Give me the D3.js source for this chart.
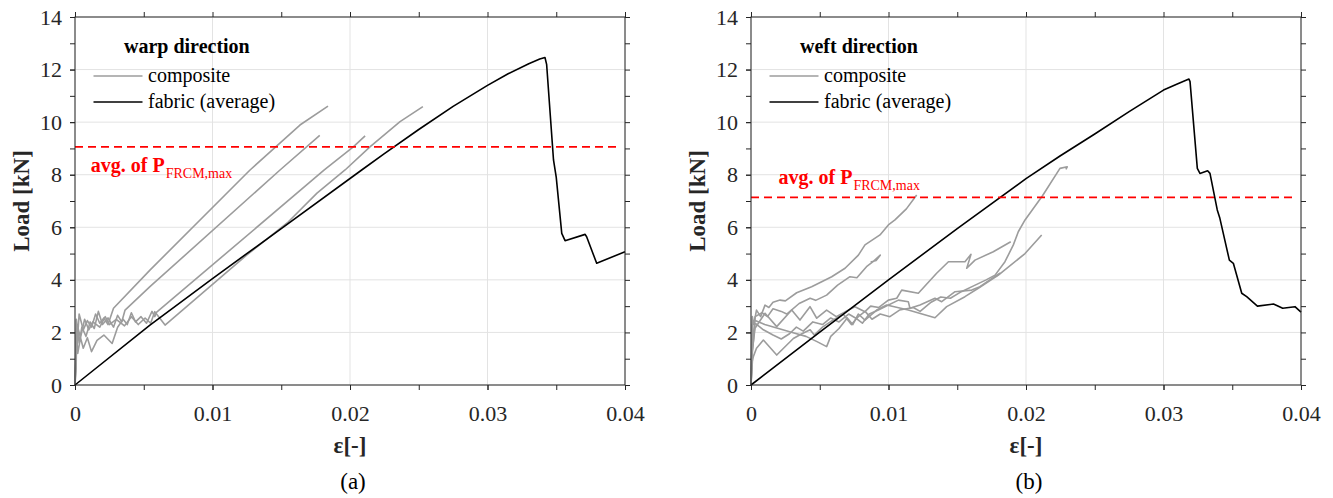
<!DOCTYPE html>
<html>
<head>
<meta charset="utf-8">
<script src="https://cdn.jsdelivr.net/npm/d3@7"></script>
<style>
  body { margin: 0; background: #fff; }
  text { font-family: "Liberation Serif", "Times New Roman", serif; }
</style>
</head>
<body>
<svg id="chart" width="1333" height="498"></svg>
<script>
// ---- Tick values ----
const xMajorTicks = [0, 0.01, 0.02, 0.03, 0.04];
const xMinorTicks = [0, 0.005, 0.01, 0.015, 0.02, 0.025, 0.03, 0.035, 0.04];
const yMajorTicks = [0, 2, 4, 6, 8, 10, 12, 14];
const yMinorTicks = [0, 1, 2, 3, 4, 5, 6, 7, 8, 9, 10, 11, 12, 13, 14];

// ---- Warp direction: [strain, load kN] ----
const warpFabric = [[0,0],[0.00545,2.28],[0.01,4.05],[0.015,5.95],[0.02085,8.18],[0.0225,8.8],[0.025,9.72],
  [0.0275,10.6],[0.03,11.4],[0.0315,11.84],[0.033,12.22],[0.0338,12.4],[0.03418,12.46],[0.0343,12.2],
  [0.0348,8.56],[0.035,7.9],[0.0354,5.77],[0.03564,5.49],[0.0371,5.73],[0.03721,5.64],[0.03794,4.63],[0.04,5.07]];
const warpComposite1 = [[0,0],[0.00005,1.0],[0.0001,2.5],[0.0002,1.9],[0.0003,2.7],[0.0006,2.1],[0.0009,2.45],
  [0.0012,2.2],[0.0015,2.7],[0.0018,2.35],[0.0021,2.55],[0.0024,2.3],[0.0028,2.92],[0.00545,4.37],
  [0.01273,8.18],[0.01636,9.89],[0.0184,10.61]];
const warpComposite2 = [[0,0],[0.0001,1.4],[0.00015,2.3],[0.0003,1.6],[0.0005,2.2],[0.0008,1.85],[0.0011,2.4],
  [0.0014,2.15],[0.0017,2.8],[0.002,2.3],[0.0024,2.55],[0.0028,2.2],[0.0031,2.65],[0.0034,2.4],[0.00364,2.85],
  [0.00545,3.74],[0.01491,8.18],[0.0178,9.5]];
const warpComposite3 = [[0,0],[0.00008,0.6],[0.00012,1.9],[0.0002,1.2],[0.0004,1.8],[0.0006,1.4],[0.0009,1.8],
  [0.0012,1.27],[0.0016,1.7],[0.0021,1.9],[0.0027,1.58],[0.0031,2.2],[0.0035,2.5],[0.0038,2.3],[0.0041,2.75],
  [0.0044,2.4],[0.0048,2.6],[0.0052,2.35],[0.0056,2.8],[0.0058,2.6],[0.0059,2.75],[0.01813,8.18],
  [0.02024,9.06],[0.0211,9.48]];
const warpComposite4 = [[0,0],[0.0001,2.0],[0.00015,1.5],[0.0002,2.2],[0.0004,1.8],[0.0007,2.5],[0.001,2.1],
  [0.0013,2.4],[0.0018,2.2],[0.0022,2.6],[0.0025,2.3],[0.003,2.5],[0.0036,2.25],[0.0041,2.6],[0.0046,2.3],
  [0.0051,2.55],[0.0055,2.35],[0.0058,2.79],[0.00655,2.28],[0.01248,4.94],[0.0155,6.2],[0.0176,7.3],
  [0.01964,8.18],[0.02145,9.06],[0.02364,10.02],[0.0253,10.59]];
const warpAvgPmax = 9.06;

// ---- Weft direction: [strain, load kN] ----
const weftFabric = [[0,0],[0.005,2.01],[0.01,4.0],[0.015,5.95],[0.02,7.85],[0.0225,8.72],[0.025,9.55],
  [0.0275,10.4],[0.03,11.22],[0.031,11.45],[0.03185,11.64],[0.03193,11.54],
  [0.03246,8.24],[0.03265,8.05],[0.03321,8.15],[0.03338,8.05],[0.03391,6.66],[0.0341,6.34],[0.03479,4.75],
  [0.03508,4.63],[0.03569,3.49],[0.03605,3.36],[0.03683,3.0],[0.038,3.08],[0.03867,2.92],[0.03956,2.98],[0.04,2.77]];
const weftComposite1 = [[0,0],[0.00005,1.6],[0.0001,2.6],[0.0002,2.3],[0.0004,2.85],[0.0007,2.6],[0.00102,3.04],
  [0.0013,2.95],[0.0016,3.15],[0.00211,3.23],[0.0025,3.2],[0.00332,3.51],[0.00441,3.74],[0.00514,3.93],
  [0.00587,4.12],[0.00684,4.44],[0.00781,4.94],[0.00829,5.33],[0.00938,5.71],[0.00999,6.09],[0.01047,6.28],
  [0.0113,6.7],[0.01205,7.23]];
const weftComposite2 = [[0,0],[0.0001,1.5],[0.0003,2.6],[0.0008,2.75],[0.0012,2.6],[0.0016,2.9],[0.0022,2.8],
  [0.0026,2.7],[0.0035,3.1],[0.0043,3.3],[0.0047,3.22],[0.0055,3.42],[0.0063,3.8],[0.0072,4.12],[0.0077,4.08],
  [0.0084,4.5],[0.0089,4.7],[0.0094,4.94],[0.0091,4.74],[0.0087,4.68]];
const weftComposite3 = [[0,0],[0.0001,0.9],[0.00017,1.08],[0.0004,1.4],[0.0009,1.71],[0.00187,1.14],[0.00308,1.77],
  [0.0037,1.95],[0.0043,2.1],[0.0046,1.9],[0.0052,2.2],[0.0059,2.45],[0.0067,2.7],[0.0073,2.3],[0.0078,2.6],
  [0.0083,2.8],[0.0088,2.5],[0.0094,2.7],[0.0101,2.6],[0.0108,2.85],[0.0118,2.95],[0.0123,2.8],[0.0131,3.15],
  [0.0138,3.35],[0.0145,3.3],[0.0153,3.55],[0.0163,3.8],[0.0171,4.0],[0.01775,4.18],[0.01847,4.69],
  [0.01908,5.33],[0.01944,5.83],[0.01993,6.28],[0.0212,7.2],[0.02247,8.24],[0.023,8.3],[0.0229,8.2]];
const weftComposite4 = [[0,0],[0.0001,2.3],[0.0003,2.45],[0.001,2.3],[0.002,2.15],[0.003,2.0],[0.004,1.85],
  [0.0048,1.65],[0.0055,1.46],[0.0058,1.85],[0.0064,2.15],[0.007,2.55],[0.0074,2.3],[0.0078,2.7],[0.00829,2.47],
  [0.00914,2.85],[0.00987,3.04],[0.01144,2.85],[0.01338,2.56],[0.01423,2.98],[0.01556,3.36],[0.01653,3.68],
  [0.01799,4.18],[0.01993,5.0],[0.02114,5.71]];
const weftComposite5 = [[0,0],[0.0001,1.3],[0.00029,2.16],[0.00102,2.73],[0.00187,2.22],[0.00296,2.85],
  [0.00356,2.47],[0.00429,2.98],[0.00478,2.54],[0.0055,2.85],[0.0062,2.6],[0.0069,2.8],[0.00756,2.98],
  [0.00829,2.79],[0.0087,3.0],[0.0093,2.95],[0.00999,3.23],[0.0106,3.3],[0.01096,3.61],[0.01217,3.49],
  [0.0135,4.25],[0.01436,4.69],[0.01556,4.69],[0.016,4.97],[0.01569,4.44],[0.01629,4.75],[0.01762,5.07],[0.01889,5.45]];
const weftComposite6 = [[0,0],[0.0001,1.3],[0.0003,2.35],[0.0009,2.1],[0.0016,1.9],[0.0022,1.75],[0.0028,1.95],
  [0.0033,2.2],[0.0038,2.05],[0.0045,2.4],[0.0052,2.3],[0.0058,2.55],[0.0064,2.4],[0.0071,2.7],[0.0076,2.55],
  [0.0081,2.35],[0.0086,2.7],[0.00926,2.85],[0.01072,3.23],[0.01144,3.17],[0.01156,2.92],[0.01229,3.04],
  [0.01338,3.3],[0.01387,3.17],[0.01484,3.55],[0.01605,3.61],[0.01665,3.74],[0.01787,4.18],[0.0181,4.25],[0.0178,4.12]];
const weftAvgPmax = 7.14;

// ---- Layout ----
const svg = d3.select('#chart');
const plotW = 550, plotH = 368, plotTop = 17;
const GRAY = '#9c9c9c', AXIS = '#262626';

const panels = [
  { left: 75, title: 'warp direction', caption: '(a)', fabric: warpFabric,
    composites: [warpComposite1, warpComposite2, warpComposite3, warpComposite4],
    avg: warpAvgPmax, labelAt: [0.00115, 8.1] },
  { left: 751, title: 'weft direction', caption: '(b)', fabric: weftFabric,
    composites: [weftComposite1, weftComposite2, weftComposite3, weftComposite4, weftComposite5, weftComposite6],
    avg: weftAvgPmax, labelAt: [0.002, 7.65] }
];

panels.forEach(p => {
  const g = svg.append('g').attr('transform', `translate(${p.left},${plotTop})`);
  const x = d3.scaleLinear().domain([0, 0.04]).range([0, plotW]);
  const y = d3.scaleLinear().domain([0, 14]).range([plotH, 0]);

  // grid
  g.append('g').selectAll('line').data(xMajorTicks).join('line')
    .attr('x1', d => x(d)).attr('x2', d => x(d)).attr('y1', 0).attr('y2', plotH)
    .attr('stroke', '#e3e3e3').attr('stroke-width', 1);
  g.append('g').selectAll('line').data(yMajorTicks).join('line')
    .attr('y1', d => y(d)).attr('y2', d => y(d)).attr('x1', 0).attr('x2', plotW)
    .attr('stroke', '#e3e3e3').attr('stroke-width', 1);

  // curves
  const line = d3.line().x(d => x(d[0])).y(d => y(d[1]));
  g.append('g').selectAll('path').data(p.composites).join('path')
    .attr('d', line).attr('fill', 'none').attr('stroke', GRAY)
    .attr('stroke-width', 1.6).attr('stroke-linejoin', 'round');
  g.append('path').datum(p.fabric).attr('d', line).attr('fill', 'none')
    .attr('stroke', '#000').attr('stroke-width', 1.6).attr('stroke-linejoin', 'round');

  // average of the composite peak loads
  g.append('line').attr('x1', x(0)).attr('x2', x(0.0396))
    .attr('y1', y(p.avg)).attr('y2', y(p.avg))
    .attr('stroke', '#ff0000').attr('stroke-width', 1.8).attr('stroke-dasharray', '8,5');
  const lbl = g.append('text').attr('x', x(p.labelAt[0])).attr('y', y(p.labelAt[1]))
    .attr('fill', '#ff0000').attr('font-size', 20).attr('font-weight', 'bold');
  lbl.append('tspan').text('avg. of P');
  lbl.append('tspan').attr('dy', 6).attr('dx', 1).attr('font-size', 14).attr('font-weight', 'normal').text('FRCM,max');

  // axes with outward ticks
  const fmtX = d => d === 0 ? '0' : d3.format('.2f')(d);
  const styleAxis = sel => {
    sel.select('.domain').remove();
    sel.selectAll('line').attr('stroke', AXIS);
    sel.selectAll('text').attr('fill', AXIS).attr('font-size', 22)
      .attr('font-family', '"Liberation Serif", "Times New Roman", serif');
  };
  g.append('g').attr('transform', `translate(0,${plotH})`)
    .call(d3.axisBottom(x).tickValues(xMinorTicks).tickSize(5).tickFormat('')).call(styleAxis);
  g.append('g').attr('transform', `translate(0,${plotH})`)
    .call(d3.axisBottom(x).tickValues(xMajorTicks).tickSize(5).tickFormat(fmtX)).call(styleAxis)
    .selectAll('text').attr('y', 36).attr('dy', 0);
  g.append('g').call(d3.axisTop(x).tickValues(xMinorTicks).tickSize(5).tickFormat('')).call(styleAxis);
  g.append('g').call(d3.axisLeft(y).tickValues(yMinorTicks).tickSize(5).tickFormat('')).call(styleAxis);
  g.append('g').call(d3.axisLeft(y).tickValues(yMajorTicks).tickSize(5).tickPadding(8)).call(styleAxis);
  g.append('g').attr('transform', `translate(${plotW},0)`)
    .call(d3.axisRight(y).tickValues(yMinorTicks).tickSize(5).tickFormat('')).call(styleAxis);

  // box
  g.append('rect').attr('x', 0).attr('y', 0).attr('width', plotW).attr('height', plotH)
    .attr('fill', 'none').attr('stroke', AXIS).attr('stroke-width', 1);

  // legend
  g.append('text').attr('x', 49).attr('y', 36).attr('font-size', 20).attr('font-weight', 'bold')
    .attr('fill', '#000').text(p.title);
  const legend = [['composite', GRAY, 59, 65], ['fabric (average)', '#000', 85, 91]];
  legend.forEach(([name, color, ly, ty]) => {
    g.append('line').attr('x1', 18.5).attr('x2', 67.5).attr('y1', ly).attr('y2', ly)
      .attr('stroke', color).attr('stroke-width', 1.6);
    g.append('text').attr('x', 73).attr('y', ty).attr('font-size', 20).attr('fill', '#000').text(name);
  });

  // axis titles and caption
  g.append('text').attr('x', plotW / 2).attr('y', 436).attr('text-anchor', 'middle')
    .attr('font-size', 23).attr('font-weight', 'bold').attr('fill', AXIS).text('ε[-]');
  g.append('text').attr('transform', `translate(-46,${plotH / 2}) rotate(-90)`)
    .attr('text-anchor', 'middle').attr('font-size', 23).attr('font-weight', 'bold')
    .attr('fill', AXIS).text('Load [kN]');
  g.append('text').attr('x', plotW / 2 + 3).attr('y', 472).attr('text-anchor', 'middle')
    .attr('font-size', 23).attr('fill', '#000').text(p.caption);
});
</script>
</body>
</html>
